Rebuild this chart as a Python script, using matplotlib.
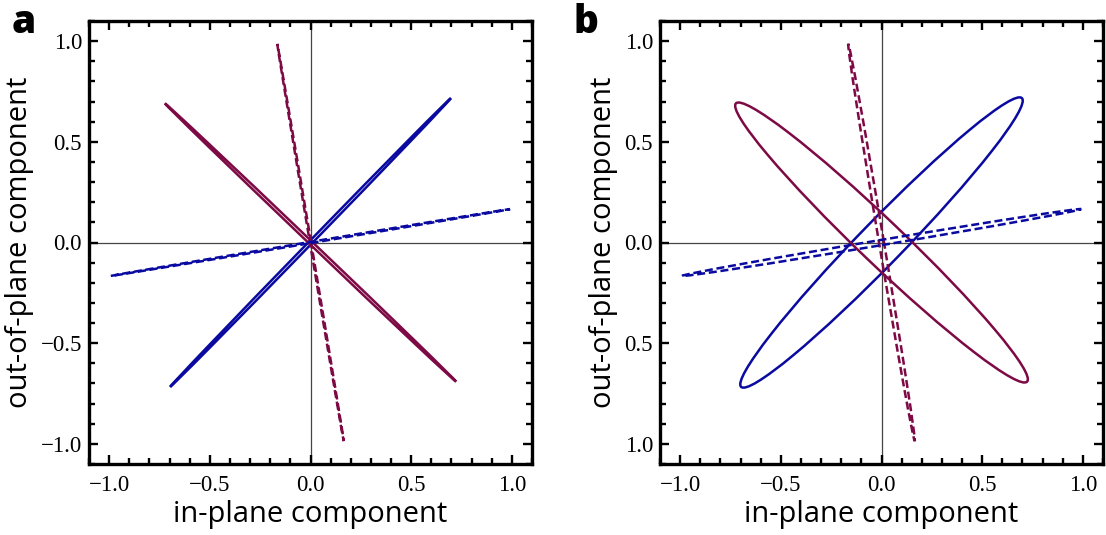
import matplotlib
matplotlib.use('Agg')
import matplotlib.pyplot as plt
from matplotlib.patches import Ellipse
from matplotlib.ticker import MultipleLocator

# polarization ellipses: orientation (deg), semi-major, semi-minor axis
curve_colors = ['#0a0aa0', '#7d0a45', '#7d0a45', '#0a0aa0']
curve_styles = ['solid', 'solid', 'dashed', 'dashed']
angle_deg = [45.8, 136.3, 99.5, 9.5]
semi_major = [1.0, 1.0, 1.0, 1.005]
semi_minor_a = [0.008, 0.008, 0.003, 0.003]
semi_minor_b = [0.1075, 0.1075, 0.0122, 0.013]

tick_vals = [-1.0, -0.5, 0.0, 0.5, 1.0]
xtick_labels = ['\u22121.0', '\u22120.5', '0.0', '0.5', '1.0']
ytick_labels_a = ['\u22121.0', '\u22120.5', '0.0', '0.5', '1.0']
ytick_labels_b = ['1.0', '0.5', '0.0', '0.5', '1.0']  # as printed in the source

panel_letters = ['a', 'b']

W, H = 1106, 535
fig = plt.figure(figsize=(W / 100, H / 100), dpi=100)

axes_px = [(89, 21), (660, 21)]  # left, top in pixels
size_px = 443


def setup_axes(ax, yticklabels):
    ax.set_xlim(-1.1, 1.1)
    ax.set_ylim(-1.1, 1.1)
    ax.axhline(0, color='#444444', lw=0.9, zorder=1)
    ax.axvline(0, color='#444444', lw=0.9, zorder=1)
    ax.set_xticks(tick_vals)
    ax.set_xticklabels(xtick_labels)
    ax.set_yticks(tick_vals)
    ax.set_yticklabels(yticklabels)
    ax.xaxis.set_minor_locator(MultipleLocator(0.1))
    ax.yaxis.set_minor_locator(MultipleLocator(0.1))
    ax.tick_params(which='both', direction='in', top=True, right=True,
                   width=1.7, color='black')
    ax.tick_params(which='major', length=6.5)
    ax.tick_params(which='minor', length=4.3)
    ax.tick_params(axis='x', which='major', pad=8)
    ax.tick_params(axis='y', which='major', pad=5)
    for lab in ax.get_xticklabels() + ax.get_yticklabels():
        lab.set_fontfamily('Liberation Serif')
        lab.set_fontsize(16.5)
    for sp in ax.spines.values():
        sp.set_linewidth(2.4)
    ax.set_xlabel('in-plane component', family='Open Sans', fontsize=21,
                  labelpad=3)
    ax.set_ylabel('out-of-plane component', family='Open Sans', fontsize=21,
                  labelpad=5)


for i, (minors, ylabels) in enumerate([(semi_minor_a, ytick_labels_a),
                                        (semi_minor_b, ytick_labels_b)]):
    left, top = axes_px[i]
    ax = fig.add_axes([left / W, 1 - (top + size_px) / H, size_px / W, size_px / H])
    setup_axes(ax, ylabels)
    for j in range(len(angle_deg)):
        e = Ellipse((0, 0), 2 * semi_major[j], 2 * minors[j], angle=angle_deg[j],
                    fill=False, edgecolor=curve_colors[j], lw=1.8, zorder=3)
        if curve_styles[j] == 'dashed':
            e.set_linestyle((0, (3.2, 1.5)))
        ax.add_patch(e)

fig.text(12 / W, 1 - 33 / H, panel_letters[0], family='Open Sans',
         weight='heavy', fontsize=28, va='baseline', ha='left')
fig.text(574 / W, 1 - 33 / H, panel_letters[1], family='Open Sans',
         weight='heavy', fontsize=28, va='baseline', ha='left')

fig.savefig('out.png', dpi=100)
